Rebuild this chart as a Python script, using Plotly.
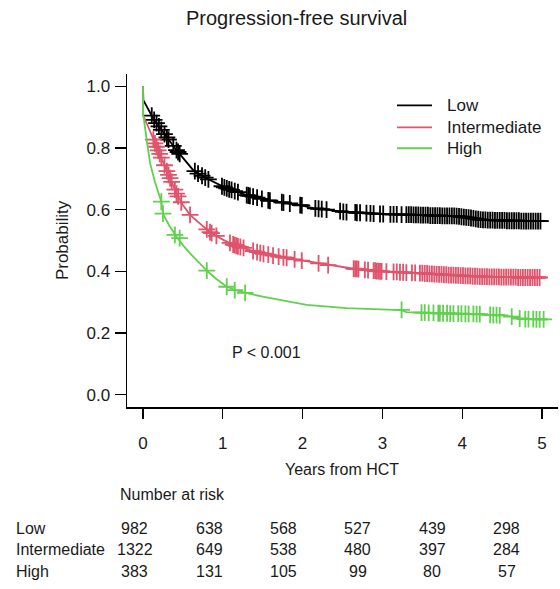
import plotly.graph_objects as go

# ---------------- data ----------------
groups = ["Low", "Intermediate", "High"]
colors = ["#000000", "#DF536B", "#61D04F"]

# Kaplan-Meier curves (years, survival probability)
low_t = [0, 0.005, 0.13, 0.25, 0.42, 0.63, 0.80, 1.05, 1.30, 1.59, 1.72, 1.97, 2.13, 2.30, 2.55, 2.97,
         3.40, 3.90, 4.10, 4.25, 4.60, 5.07]
low_s = [1.0, 0.955, 0.895, 0.852, 0.793, 0.728, 0.701, 0.669, 0.647, 0.629, 0.625, 0.615, 0.605, 0.600,
         0.592, 0.586, 0.584, 0.580, 0.574, 0.567, 0.564, 0.563]

int_t = [0, 0.003, 0.08, 0.15, 0.22, 0.30, 0.36, 0.42, 0.50, 0.59, 0.70, 0.84, 1.00, 1.13, 1.30, 1.50,
         1.70, 2.00, 2.30, 2.60, 2.97, 3.30, 3.60, 4.00, 4.30, 4.64, 5.05]
int_s = [1.0, 0.905, 0.860, 0.815, 0.775, 0.725, 0.690, 0.652, 0.615, 0.583, 0.558, 0.527, 0.503, 0.487,
         0.472, 0.457, 0.448, 0.435, 0.421, 0.410, 0.400, 0.396, 0.392, 0.386, 0.383, 0.381, 0.380]

high_t = [0, 0.003, 0.05, 0.09, 0.15, 0.23, 0.25, 0.33, 0.42, 0.50, 0.59, 0.70, 0.80, 0.92, 1.05, 1.17,
          1.30, 1.50, 1.72, 2.05, 2.55, 3.00, 3.24, 3.30, 3.60, 4.22, 4.50, 4.64, 4.75, 5.06]
high_s = [1.0, 0.910, 0.820, 0.750, 0.690, 0.626, 0.587, 0.548, 0.513, 0.485, 0.458, 0.428, 0.402, 0.375,
          0.350, 0.338, 0.329, 0.318, 0.307, 0.291, 0.281, 0.277, 0.274, 0.268, 0.265, 0.261, 0.257, 0.253,
          0.246, 0.244]

# censoring marks (years, survival probability)
low_cens_t = [0.11, 0.14, 0.17, 0.20, 0.23, 0.27, 0.30, 0.32, 0.38, 0.42, 0.44, 0.46, 0.65, 0.69, 0.74,
              0.78, 0.82, 0.99, 1.02, 1.05, 1.08, 1.11, 1.15, 1.19, 1.30, 1.32, 1.34, 1.38, 1.43, 1.49,
              1.57, 1.59, 1.74, 1.76, 1.84, 1.97, 1.99, 2.16, 2.20, 2.24, 2.30, 2.47, 2.51, 2.55, 2.66,
              2.68, 2.72, 2.80, 2.85, 2.89, 2.97, 3.01, 3.10, 3.14, 3.18, 3.24, 3.30,
              3.33, 3.36, 3.39, 3.42, 3.45, 3.48, 3.51, 3.54, 3.57, 3.60, 3.63, 3.66, 3.69, 3.72, 3.75,
              3.78, 3.81, 3.84, 3.87, 3.90, 3.93, 3.96, 3.99, 4.02, 4.05, 4.08, 4.11, 4.14, 4.17, 4.20,
              4.23, 4.26, 4.29, 4.32, 4.35, 4.38, 4.41, 4.44, 4.47, 4.50, 4.53, 4.56, 4.59, 4.62, 4.65,
              4.68, 4.71, 4.74, 4.77, 4.80, 4.83, 4.86, 4.89, 4.92, 4.95, 4.98]
low_cens_s = [0.905, 0.891, 0.881, 0.870, 0.859, 0.845, 0.834, 0.827, 0.807, 0.793, 0.787, 0.781, 0.725,
              0.717, 0.710, 0.704, 0.698, 0.676, 0.672, 0.669, 0.666, 0.664, 0.660, 0.657, 0.647, 0.646,
              0.645, 0.642, 0.639, 0.635, 0.630, 0.629, 0.624, 0.623, 0.620, 0.615, 0.614, 0.604, 0.603,
              0.602, 0.600, 0.595, 0.593, 0.592, 0.591, 0.590, 0.590, 0.589, 0.588, 0.587, 0.586, 0.586,
              0.585, 0.585, 0.585, 0.584, 0.584,
              0.584, 0.584, 0.583, 0.583, 0.583, 0.582, 0.582, 0.582, 0.582, 0.581, 0.581, 0.581, 0.581,
              0.581, 0.580, 0.580, 0.580, 0.580, 0.580, 0.580, 0.579, 0.578, 0.577, 0.576, 0.575, 0.574,
              0.573, 0.572, 0.570, 0.569, 0.568, 0.567, 0.567, 0.566, 0.566, 0.566, 0.565, 0.565, 0.565,
              0.565, 0.565, 0.564, 0.564, 0.564, 0.564, 0.564, 0.564, 0.563, 0.563, 0.563, 0.563, 0.563,
              0.563, 0.563, 0.563, 0.563]

int_cens_t = [0.13, 0.15, 0.17, 0.19, 0.21, 0.23, 0.27, 0.30, 0.32, 0.34, 0.36, 0.40, 0.42, 0.44, 0.48,
              0.59, 0.80, 0.84, 0.86, 0.92, 1.09, 1.13, 1.15, 1.17, 1.19, 1.22, 1.26, 1.38, 1.43, 1.47,
              1.51, 1.57, 1.63, 1.70, 1.76, 1.80, 1.90, 1.99, 2.20, 2.32, 2.64, 2.66, 2.68, 2.70, 2.78,
              2.82, 2.89, 2.91, 2.93, 2.95, 2.97, 2.99, 3.05, 3.14, 3.18, 3.22, 3.26, 3.30, 3.37, 3.41,
              3.47,
              3.50, 3.53, 3.56, 3.59, 3.62, 3.65, 3.68, 3.71, 3.74, 3.77, 3.80, 3.83, 3.86, 3.89, 3.92,
              3.95, 3.98, 4.01, 4.04, 4.07, 4.10, 4.13, 4.16, 4.19, 4.22, 4.25, 4.28, 4.31, 4.34, 4.37,
              4.40, 4.43, 4.46, 4.49, 4.52, 4.55, 4.58, 4.61, 4.64, 4.67, 4.70, 4.73, 4.76, 4.79, 4.82,
              4.85, 4.88, 4.91, 4.94, 4.97]
int_cens_s = [0.827, 0.815, 0.804, 0.792, 0.781, 0.769, 0.744, 0.725, 0.713, 0.702, 0.690, 0.665, 0.652,
              0.643, 0.624, 0.583, 0.536, 0.527, 0.524, 0.515, 0.492, 0.487, 0.485, 0.483, 0.481, 0.479,
              0.476, 0.466, 0.462, 0.459, 0.457, 0.454, 0.451, 0.448, 0.445, 0.444, 0.439, 0.435, 0.426,
              0.420, 0.409, 0.408, 0.408, 0.407, 0.405, 0.404, 0.402, 0.402, 0.401, 0.401, 0.400, 0.400,
              0.399, 0.398, 0.398, 0.397, 0.397, 0.396, 0.395, 0.395, 0.394,
              0.394, 0.393, 0.393, 0.392, 0.392, 0.391, 0.391, 0.390, 0.390, 0.389, 0.389, 0.388, 0.388,
              0.388, 0.387, 0.387, 0.386, 0.386, 0.385, 0.385, 0.385, 0.384, 0.384, 0.384, 0.383, 0.383,
              0.383, 0.383, 0.382, 0.382, 0.382, 0.382, 0.382, 0.381, 0.381, 0.381, 0.381, 0.381, 0.381,
              0.381, 0.380, 0.380, 0.380, 0.380, 0.380, 0.380, 0.380, 0.380, 0.380, 0.380]

high_cens_t = [0.23, 0.25, 0.40, 0.46, 0.80, 1.05, 1.15, 1.28, 3.24, 3.49, 3.53, 3.58, 3.64, 3.70, 3.72,
               3.76, 3.81, 3.85, 3.89, 3.95, 3.99, 4.04, 4.08, 4.14, 4.18, 4.22, 4.35, 4.39, 4.43, 4.47,
               4.62, 4.72, 4.79, 4.83, 4.89, 4.93, 4.97, 5.02]
high_cens_s = [0.626, 0.587, 0.518, 0.508, 0.402, 0.350, 0.339, 0.330, 0.275, 0.266, 0.266, 0.265, 0.265,
               0.264, 0.264, 0.264, 0.264, 0.263, 0.263, 0.263, 0.263, 0.262, 0.262, 0.262, 0.261, 0.261,
               0.259, 0.258, 0.258, 0.257, 0.253, 0.247, 0.245, 0.245, 0.245, 0.244, 0.244, 0.244]

# number at risk table
risk_times = [0, 1, 2, 3, 4, 5]
risk_low = [982, 638, 568, 527, 439, 298]
risk_int = [1322, 649, 538, 480, 397, 284]
risk_high = [383, 131, 105, 99, 80, 57]

x_ticks = [0, 1, 2, 3, 4, 5]
y_ticks = [0.0, 0.2, 0.4, 0.6, 0.8, 1.0]
y_ticktext = ["0.0", "0.2", "0.4", "0.6", "0.8", "1.0"]

# ---------------- figure ----------------
FONT = "Liberation Sans, Arial, Helvetica, sans-serif"
TXT = "#1a1a1a"

curves = [(low_t, low_s), (int_t, int_s), (high_t, high_s)]
cens = [(low_cens_t, low_cens_s), (int_cens_t, int_cens_s), (high_cens_t, high_cens_s)]

fig = go.Figure()
for name, col, (ct, cs), (mt, ms) in zip(groups, colors, curves, cens):
    fig.add_trace(go.Scatter(x=ct, y=cs, mode="lines", name=name,
                             line=dict(color=col, width=1.8), showlegend=False))
    fig.add_trace(go.Scatter(x=mt, y=ms, mode="markers", showlegend=False, hoverinfo="skip",
                             marker=dict(symbol="cross-thin", size=12, color=col,
                                         line=dict(color=col, width=1.8))))

# hidden axis for the risk table columns
fig.add_trace(go.Scatter(x=[risk_times[0]], y=[0], xaxis="x2", mode="markers",
                         marker=dict(opacity=0), showlegend=False, hoverinfo="skip"))

annotations = []
shapes = []
annotations.append(dict(text="Progression-free survival", xref="paper", yref="paper", x=0.394, y=1.168,
                        xanchor="center", yanchor="middle", showarrow=False,
                        font=dict(size=20, family=FONT, color=TXT)))
annotations.append(dict(text="Probability", xref="paper", yref="paper", x=-0.151, y=0.501, textangle=-90,
                        xanchor="center", yanchor="middle", showarrow=False,
                        font=dict(size=17, family=FONT, color=TXT)))
annotations.append(dict(text="Years from HCT", xref="paper", yref="paper", x=0.499, y=-0.189,
                        xanchor="center", yanchor="middle", showarrow=False,
                        font=dict(size=16, family=FONT, color=TXT)))
annotations.append(dict(text="P < 0.001", xref="x", yref="y", x=1.55, y=0.136,
                        xanchor="center", yanchor="middle", showarrow=False,
                        font=dict(size=16, family=FONT, color=TXT)))
annotations.append(dict(text="Number at risk", xref="paper", yref="paper", x=-0.021, y=-0.264,
                        xanchor="left", yanchor="middle", showarrow=False,
                        font=dict(size=16, family=FONT, color=TXT)))

# legend (keys + labels)
legend_y = [0.906, 0.840, 0.777]
for g, col, ly in zip(groups, colors, legend_y):
    shapes.append(dict(type="line", xref="paper", yref="paper", x0=0.6265, x1=0.7077, y0=ly, y1=ly,
                       line=dict(color=col, width=1.8)))
    annotations.append(dict(text=g, xref="paper", yref="paper", x=0.738, y=ly,
                            xanchor="left", yanchor="middle", showarrow=False,
                            font=dict(size=17, family=FONT, color=TXT)))

row_y = [-0.364, -0.429, -0.494]
for g, ry, vals in zip(groups, row_y, [risk_low, risk_int, risk_high]):
    annotations.append(dict(text=g, xref="paper", yref="paper", x=-0.262, y=ry,
                            xanchor="left", yanchor="middle", showarrow=False,
                            font=dict(size=16, family=FONT, color=TXT)))
    for t, v in zip(risk_times, vals):
        annotations.append(dict(text=str(v), xref="x2", yref="paper", x=t, y=ry,
                                xanchor="center", yanchor="middle", showarrow=False,
                                font=dict(size=16, family=FONT, color=TXT)))

fig.update_layout(
    width=560, height=589,
    margin=dict(l=127, r=2, t=74, b=182),
    paper_bgcolor="white", plot_bgcolor="white",
    font=dict(family=FONT, color=TXT),
    showlegend=False,
    hovermode=False,
    xaxis=dict(range=[-0.2, 5.2], tickvals=x_ticks, showgrid=False, zeroline=False,
               showline=True, linecolor="black", linewidth=1.5, ticks="outside", ticklen=10,
               tickwidth=1.2, tickcolor="black", tickfont=dict(size=17, family=FONT, color=TXT),
               ticklabelstandoff=10),
    xaxis2=dict(range=[-0.1035, 5.69], overlaying="x", visible=False, anchor="y"),
    yaxis=dict(range=[-0.04, 1.04], tickvals=y_ticks, ticktext=y_ticktext, showgrid=False,
               zeroline=False, showline=True, linecolor="black", linewidth=1.5, ticks="outside",
               ticklen=11, tickwidth=1.2, tickcolor="black",
               tickfont=dict(size=17, family=FONT, color=TXT), ticklabelstandoff=1),
    annotations=annotations,
    shapes=shapes,
)

# remove the default 8px page margin so the figure sits at the window's top-left corner
fig.write_html("out.html",
               config={"displayModeBar": False, "staticPlot": True},
               post_script="document.body.style.margin='0px';document.body.style.padding='0px';")
